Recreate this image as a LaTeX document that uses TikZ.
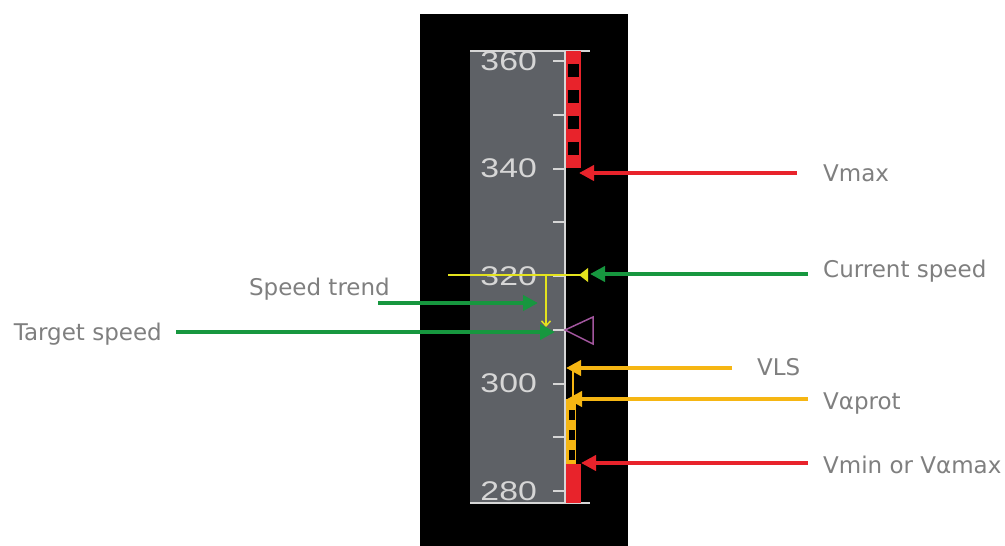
\documentclass[tikz,border=0pt]{standalone}
\usepackage{fontspec}
\usepackage{graphicx}
\usepackage{tikz}
\usetikzlibrary{arrows.meta,calc}
\setmainfont{DejaVu Sans}
\newfontfamily\fitafont{Liberation Sans}

\definecolor{cinzafita}{HTML}{5E6166}
\definecolor{cinzatexto}{HTML}{7F7F7F}
\definecolor{brancofita}{HTML}{D6D6D6}
\definecolor{verde}{HTML}{17973F}
\definecolor{vermelho}{HTML}{E8232B}
\definecolor{ambar}{HTML}{F6B613}
\definecolor{amarelo}{HTML}{E4E31E}
\definecolor{magenta}{HTML}{A2569E}

\begin{document}
\begin{tikzpicture}[
        x=1pt, y=-1pt,
        >={Triangle[length=15pt,width=15pt]},
        rotulo/.style={font=\fontsize{23}{26}\selectfont, text=cinzatexto, inner sep=0pt},
        numero/.style={font=\fitafont\fontsize{27}{29}\selectfont, text=brancofita, inner sep=0pt, anchor=east},
        linhafita/.style={draw=brancofita, line width=2pt},
        seta/.style={->, line width=4pt}
    ]

        \useasboundingbox (0,0) rectangle (1005,546);

        % ==================================================
        % FITA DE VELOCIDADE
        % ==================================================

        \fill[black] (420,14) rectangle (628,546);
        \fill[cinzafita] (470,51) rectangle (565,503);

        \draw[linhafita] (470,51) -- (590,51);
        \draw[linhafita] (470,503) -- (590,503);
        \draw[linhafita] (565,51) -- (565,503);

        % Marcas de 10 em 10
        \foreach \k in {0,...,8}
            \draw[linhafita] (553,{61+53.75*\k}) -- (565,{61+53.75*\k});

        % Valores
        \foreach \v [count=\k from 0] in {360,340,320,300,280}
            \node[numero] (n\v) at (537,{61+107.5*\k}) {\scalebox{1.25}[1]{\v}};

        % Vmax (faixa vermelha quadriculada)
        \fill[vermelho] (566,51) rectangle (581,168);
        \foreach \y in {64,90,116,142}
            \fill[black] (568,\y) rectangle (579,\y+13);

        % Valpha prot (faixa ambar quadriculada)
        \fill[ambar] (566,399) rectangle (576,464);
        \foreach \y in {410,430,450}
            \fill[black] (568.5,\y) rectangle (575,\y+9.5);

        % Vmin (faixa vermelha)
        \fill[vermelho] (566,464) rectangle (581,503);

        % VLS
        \draw[ambar, line width=1.5pt] (573,368) -- (573,400);

        % Tendencia e velocidade atual
        \draw[amarelo, line width=2.5pt] (448,275) -- (581,275);
        \draw[amarelo, line width=1.5pt, -{Straight Barb[length=5pt,width=9pt]}] (546,275) -- (546,327);
        \fill[amarelo] (579,275) -- (588,268) -- (588,282) -- cycle;

        % Velocidade alvo
        \draw[magenta, line width=1.5pt, line join=miter] (565,330) -- (593,317) -- (593,344) -- cycle;

        % ==================================================
        % ROTULOS
        % ==================================================

        \coordinate (pVmax)  at (579,173);
        \coordinate (pAtual) at (590,274);
        \coordinate (pTend)  at (538,303);
        \coordinate (pAlvo)  at (555,332);
        \coordinate (pVls)   at (566,368);
        \coordinate (pProt)  at (567,399);
        \coordinate (pVmin)  at (581,463);

        \node[rotulo, anchor=base west] (vmax)  at (823,181) {Vmax};
        \node[rotulo, anchor=base west] (atual) at (823,277) {Current speed};
        \node[rotulo, anchor=base west] (vls)   at (757,375) {VLS};
        \node[rotulo, anchor=base west] (vprot) at (823,409) {Vαprot};
        \node[rotulo, anchor=base west] (vmin)  at (823,473) {Vmin or Vαmax};
        \node[rotulo, anchor=base east] (tend)  at (390,295) {Speed trend};
        \node[rotulo, anchor=base east] (alvo)  at (162,340) {Target speed};

        % Setas
        \draw[seta, vermelho, shorten <=26pt] (vmax.west |- pVmax) -- (pVmax);
        \draw[seta, verde, shorten <=15pt] (atual.west |- pAtual) -- (pAtual);
        \draw[seta, ambar, shorten <=25pt] (vls.west |- pVls) -- (pVls);
        \draw[seta, ambar, shorten <=15pt] (vprot.west |- pProt) -- (pProt);
        \draw[seta, vermelho, shorten <=15pt] (vmin.west |- pVmin) -- (pVmin);
        \draw[seta, verde] ($(tend.east |- pTend)+(-12,0)$) -- (pTend);
        \draw[seta, verde, shorten <=14pt] (alvo.east |- pAlvo) -- (pAlvo);
    \end{tikzpicture}
\end{document}
